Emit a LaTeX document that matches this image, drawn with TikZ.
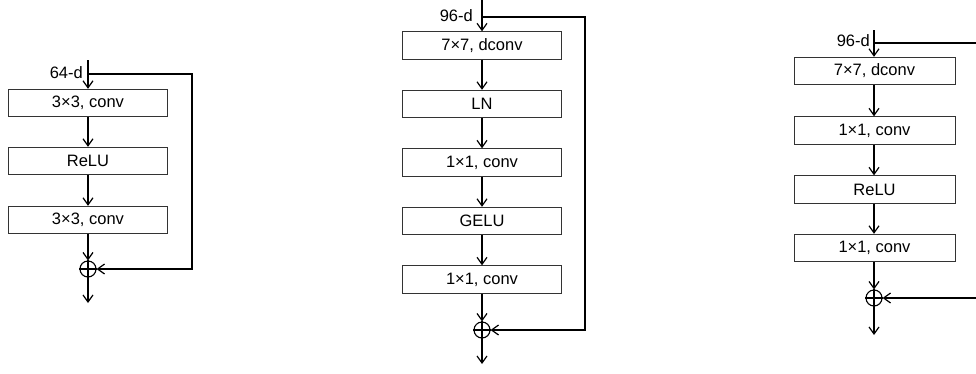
\documentclass[tikz,border=0pt]{standalone}
\usepackage{fontspec}
\setmainfont{Liberation Sans}
\usetikzlibrary{arrows.meta}
\begin{document}
\begin{tikzpicture}[x=1pt,y=-1pt,
  blk/.style={draw=black!80,line width=0.9pt,minimum width=159pt,minimum height=27.5pt,inner sep=0pt,font=\fontsize{16.5}{19}\selectfont},
  sumnode/.style={circle,draw,line width=1.1pt,minimum size=16pt,inner sep=0pt},
  lbl/.style={font=\fontsize{16.5}{19}\selectfont,inner sep=0pt},
  flow/.style={line width=1.2pt,-{Straight Barb[length=7pt,width=10pt]}},
  wire/.style={line width=1.1pt}]
\useasboundingbox (0,0) rectangle (976,373);
% ---------- left block ----------
\coordinate (in1) at (88,60);
\coordinate (j1) at (88,74);
\coordinate (r1a) at (192,74);
\coordinate (r1b) at (192,269);
\node[blk] (a1) at (88,103) {3×3, conv};
\node[blk] (a2) at (88,161) {ReLU};
\node[blk] (a3) at (88,220) {3×3, conv};
\node[sumnode] (s1) at (88,269) {};
\coordinate (out1) at (88,303);
\node[lbl,anchor=east] (l1) at (83,73) {64-d};
\draw[flow] (in1) -- (a1.north);
\draw[flow] (a1) -- (a2);
\draw[flow] (a2) -- (a3);
\draw[flow] (a3) -- (s1.north);
\draw[flow] (s1.south) -- (out1);
\draw[wire] (s1.west) -- (s1.east) (s1.north) -- (s1.south);
\draw[flow] (j1) -- (r1a) -- (r1b) -- (s1.east);
% ---------- middle block ----------
\coordinate (in2) at (482,0);
\coordinate (j2) at (482,17);
\coordinate (r2a) at (585,17);
\coordinate (r2b) at (585,330);
\node[blk] (b1) at (482,45.5) {7×7, dconv};
\node[blk] (b2) at (482,104) {LN};
\node[blk] (b3) at (482,162.5) {1×1, conv};
\node[blk] (b4) at (482,221) {GELU};
\node[blk] (b5) at (482,279.5) {1×1, conv};
\node[sumnode] (s2) at (482,330) {};
\coordinate (out2) at (482,364);
\node[lbl,anchor=east] (l2) at (473,16) {96-d};
\draw[flow] (in2) -- (b1.north);
\draw[flow] (b1) -- (b2);
\draw[flow] (b2) -- (b3);
\draw[flow] (b3) -- (b4);
\draw[flow] (b4) -- (b5);
\draw[flow] (b5) -- (s2.north);
\draw[flow] (s2.south) -- (out2);
\draw[wire] (s2.west) -- (s2.east) (s2.north) -- (s2.south);
\draw[flow] (j2) -- (r2a) -- (r2b) -- (s2.east);
% ---------- right block ----------
\coordinate (in3) at (874,30);
\coordinate (j3) at (874,43);
\coordinate (r3a) at (976,43);
\coordinate (r3b) at (976,298);
\node[blk,minimum width=161pt] (c1) at (874.5,71) {7×7, dconv};
\node[blk,minimum width=161pt] (c2) at (874.5,130.5) {1×1, conv};
\node[blk,minimum width=161pt] (c3) at (874.5,189.5) {ReLU};
\node[blk,minimum width=161pt] (c4) at (874.5,248) {1×1, conv};
\node[sumnode] (s3) at (874,298) {};
\coordinate (out3) at (874,335);
\node[lbl,anchor=east] (l3) at (870,41) {96-d};
\draw[flow] (in3) -- (in3 |- c1.north);
\draw[flow] (c1.south -| in3) -- (in3 |- c2.north);
\draw[flow] (c2.south -| in3) -- (in3 |- c3.north);
\draw[flow] (c3.south -| in3) -- (in3 |- c4.north);
\draw[flow] (c4.south -| in3) -- (s3.north);
\draw[flow] (s3.south) -- (out3);
\draw[wire] (s3.west) -- (s3.east) (s3.north) -- (s3.south);
\draw[wire] (j3) -- (r3a);
\draw[flow] (r3b) -- (s3.east);
\end{tikzpicture}
\end{document}
